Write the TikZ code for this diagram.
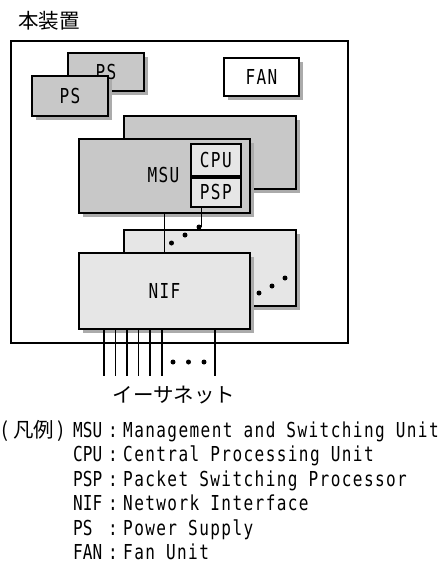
\documentclass[tikz,border=0pt]{standalone}
\usepackage{fontspec}
\setmainfont{DejaVu Sans Mono}[FakeStretch=0.78, LetterSpace=6.8]
\newfontfamily\abbr{DejaVu Sans Mono}[FakeStretch=0.78]
\newfontfamily\jp{Noto Sans CJK JP}
\usetikzlibrary{shadows}

\definecolor{unitgray}{HTML}{C8C8C8}
\definecolor{boardgray}{HTML}{E6E6E6}
\definecolor{shadegray}{HTML}{ABABAB}

\tikzset{
  lat/.style={font=\fontsize{20.6}{24}\selectfont},
  jtext/.style={font=\jp\fontsize{20.5}{24}\selectfont},
  boxbase/.style={draw, line width=2pt, inner sep=0pt, anchor=north west, lat},
  shadowed/.style={drop shadow={shadow xshift=4pt, shadow yshift=-4pt, fill=shadegray, opacity=1}},
  unitbox/.style={boxbase, shadowed, fill=unitgray},
  boardbox/.style={boxbase, shadowed, fill=boardgray},
  fanbox/.style={boxbase, shadowed, fill=white},
  subbox/.style={draw, line width=1.6pt, inner sep=0pt, anchor=north west, fill=boardgray, lat},
  wire/.style={line width=1.8pt},
  thinwire/.style={line width=1.4pt},
  dotmark/.style={fill=black, circle, inner sep=0pt, minimum size=5pt},
  legab/.style={font=\abbr\fontsize{20.6}{24}\selectfont, anchor=base west, inner sep=0pt},
  legcol/.style={font=\abbr\fontsize{20.6}{24}\selectfont, anchor=base, inner sep=0pt},
  legde/.style={lat, anchor=base west, inner sep=0pt},
}

\begin{document}
\begin{tikzpicture}[x=1pt, y=-1pt]
\useasboundingbox (0,0) rectangle (447,563);

% title and enclosure
\node[jtext, anchor=base, inner sep=0pt] (title) at (49,28.5) {本装置};
\node[draw, line width=1.6pt, inner sep=0pt, anchor=north west,
      minimum width=337pt, minimum height=302pt] (chassis) at (10,40) {};

% power supplies and fan
\node[unitbox, minimum width=76pt, minimum height=38pt] (psb) at (67,52) {PS\hspace{6pt}};
\node[unitbox, minimum width=76pt, minimum height=40pt] (psf) at (31,75) {PS};
\node[fanbox, minimum width=75pt, minimum height=38pt] (fan) at (223,57) {FAN};

% management and switching units
\node[unitbox, minimum width=172pt, minimum height=73pt] (msub) at (123,115) {};
\node[unitbox, minimum width=171pt, minimum height=74pt] (msu) at (78,138) {};
\node[lat, inner sep=0pt] (msulabel) at (163.5,174.5) {MSU};
\node[subbox, minimum width=50pt, minimum height=32pt] (cpu) at (190,143) {CPU};
\node[subbox, minimum width=50pt, minimum height=29pt] (psp) at (190,177) {PSP};

% network interface boards
\node[boardbox, minimum width=172pt, minimum height=76pt] (nifb) at (123,229) {};

\coordinate (d1) at (199,227);
\coordinate (d2) at (185,235);
\coordinate (d3) at (171.5,243);
\draw[wire] (psp.south -| 201.5,0) -- (d1 -| 201.5,0);
\node[dotmark] (p1) at (d1) {};
\node[dotmark] (p2) at (d2) {};
\node[dotmark] (p3) at (d3) {};

\draw[thinwire] (msu.south) -- (msu.south |- 0,252);

\node[boardbox, minimum width=171pt, minimum height=76pt] (nif) at (78,252) {NIF};

\node[dotmark] (q1) at (259,293) {};
\node[dotmark] (q2) at (272,286) {};
\node[dotmark] (q3) at (285,278) {};

% ethernet ports
\foreach \px [count=\k] in {104,115.5,127,138.5,150,162,215} {
  \coordinate (e\k) at (\px,376);
  \draw[wire] (nif.south -| e\k) -- (e\k);
}
\node[dotmark] (r1) at (173,362) {};
\node[dotmark] (r2) at (188.5,362) {};
\node[dotmark] (r3) at (204,362) {};
\node[jtext, anchor=base, inner sep=0pt] (ether) at (174,402.5) {イーサネット};

% legend
\node[jtext, anchor=base west, inner sep=0pt] (legend) at (1.5,437) {(\kern4.5pt凡例\kern3pt)};
\node[legab] (a1) at (73,437) {MSU};
\node[legcol] (c1) at (113,437) {:};
\node[legde] (t1) at (123,437) {Management and Switching Unit};
\node[legab] (a2) at (73,461.5) {CPU};
\node[legcol] (c2) at (113,461.5) {:};
\node[legde] (t2) at (123,461.5) {Central Processing Unit};
\node[legab] (a3) at (73,486) {PSP};
\node[legcol] (c3) at (113,486) {:};
\node[legde] (t3) at (123,486) {Packet Switching Processor};
\node[legab] (a4) at (73,510.5) {NIF};
\node[legcol] (c4) at (113,510.5) {:};
\node[legde] (t4) at (123,510.5) {Network Interface};
\node[legab] (a5) at (73,535) {PS};
\node[legcol] (c5) at (113,535) {:};
\node[legde] (t5) at (123,535) {Power Supply};
\node[legab] (a6) at (73,559.5) {FAN};
\node[legcol] (c6) at (113,559.5) {:};
\node[legde] (t6) at (123,559.5) {Fan Unit};
\end{tikzpicture}
\end{document}
